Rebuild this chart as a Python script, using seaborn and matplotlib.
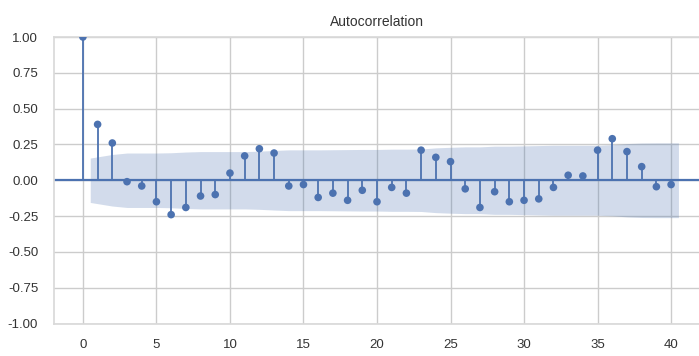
import numpy as np
import pandas as pd
import matplotlib
matplotlib.use("Agg")
import matplotlib.pyplot as plt
import seaborn as sns

# Sample autocorrelation by lag
lags = list(range(0, 41))
acf_values = [
    1.00, 0.39, 0.26, -0.01, -0.04, -0.15, -0.24, -0.19, -0.11, -0.10,
    0.05, 0.17, 0.22, 0.19, -0.04, -0.03, -0.12, -0.09, -0.14, -0.07,
    -0.15, -0.05, -0.09, 0.21, 0.16, 0.13, -0.06, -0.19, -0.08, -0.15,
    -0.14, -0.13, -0.05, 0.035, 0.03, 0.21, 0.29, 0.20, 0.095, -0.045,
    -0.03,
]
# Half-width of the 95% confidence band for lags 1..40
band_halfwidth = [
    0.155, 0.180, 0.190, 0.190, 0.190, 0.192, 0.197, 0.200, 0.200, 0.200,
    0.200, 0.203, 0.208, 0.212, 0.212, 0.212, 0.213, 0.214, 0.215, 0.215,
    0.217, 0.217, 0.218, 0.226, 0.230, 0.233, 0.233, 0.238, 0.238, 0.240,
    0.242, 0.244, 0.244, 0.244, 0.244, 0.248, 0.256, 0.260, 0.261, 0.261,
]
x_ticks = [0, 5, 10, 15, 20, 25, 30, 35, 40]
y_ticks = [-1.00, -0.75, -0.50, -0.25, 0.00, 0.25, 0.50, 0.75, 1.00]
title = "Autocorrelation"

sns.set_theme(style="whitegrid")
plt.rcParams["font.family"] = ["Liberation Sans", "DejaVu Sans"]

df = pd.DataFrame({"lag": lags, "acf": acf_values})
blue = sns.color_palette("deep")[0]

fig = plt.figure(figsize=(6.99, 3.56), dpi=100)
ax = fig.add_axes([53.5 / 699, 1 - 323.5 / 356, (700.5 - 53.5) / 699, (323.5 - 37) / 356])

# confidence band, stretched half a lag at both ends
band_x = np.array(lags[1:], dtype=float)
band_x[0] -= 0.5
band_x[-1] += 0.5
hw = np.array(band_halfwidth)
ax.fill_between(band_x, -hw, hw, color=blue, alpha=0.25, linewidth=0, zorder=1)

ax.axhline(0, color=blue, linewidth=1.6, zorder=2)
ax.vlines(df["lag"], 0, df["acf"], color=blue, linewidth=1.3, zorder=3)
sns.scatterplot(data=df, x="lag", y="acf", ax=ax, color=blue, s=30,
                edgecolor="none", zorder=4, legend=False)

ax.set_xlim(-2, 42)
ax.set_ylim(-1, 1)
ax.set_xticks(x_ticks)
ax.set_yticks(y_ticks)
ax.set_xticklabels([str(t) for t in x_ticks])
ax.set_yticklabels([f"{t:.2f}" for t in y_ticks])
ax.tick_params(axis="both", labelsize=9.5, colors="#333333", pad=5)
ax.set_xlabel("")
ax.set_ylabel("")
ax.set_title(title, fontsize=10, color="#333333", pad=8)
for s in ax.spines.values():
    s.set_color("#d9d9d9")

fig.savefig("out.png", dpi=100)
